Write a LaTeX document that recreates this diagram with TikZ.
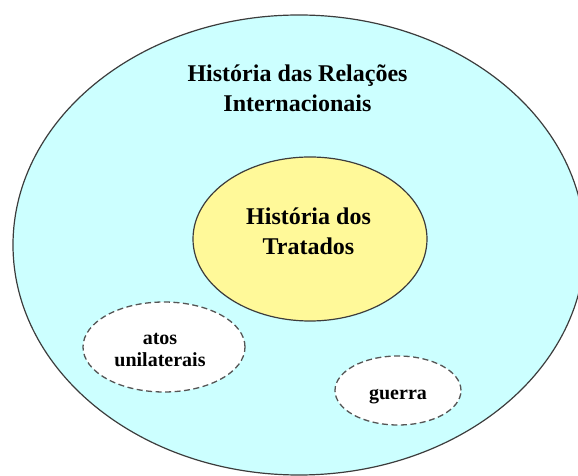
\documentclass[tikz,border=0pt]{standalone}
\usepackage{fontspec}
\setmainfont{Liberation Serif}
\usetikzlibrary{shapes.geometric}
\definecolor{outercyan}{RGB}{204,255,255}
\definecolor{inneryellow}{RGB}{255,249,153}
\definecolor{edgegray}{RGB}{60,60,60}
\definecolor{dashgray}{RGB}{85,85,85}
\tikzset{
  region/.style={ellipse, draw=edgegray, line width=1.2pt, inner sep=0pt},
  sideset/.style={ellipse, draw=dashgray, fill=white, line width=1.3pt, dash pattern=on 6pt off 3.5pt, inner sep=0pt},
  lbl/.style={font=\bfseries\fontsize{24}{30}\selectfont, align=center, text=black, inner sep=0pt},
  smalllbl/.style={font=\bfseries\fontsize{20}{22}\selectfont, align=center, text=black, inner sep=0pt}
}
\begin{document}
\begin{tikzpicture}[x=1pt,y=1pt]
\useasboundingbox (0,0) rectangle (578,476);
\clip (0,0) rectangle (578,476);
\node[region, fill=outercyan, minimum width=572pt, minimum height=460pt] (outer) at (299,231) {};
\node[region, fill=inneryellow, minimum width=234pt, minimum height=164pt] (treaties) at (310,237) {};
\node[sideset, minimum width=162pt, minimum height=90pt] (atos) at (164,129) {};
\node[sideset, minimum width=126pt, minimum height=69pt] (guerra) at (398,85.5) {};
\node[lbl] (titletext) at (297.5,388) {História das Relações\\Internacionais};
\node[lbl] (treatytext) at (308.5,245) {História dos\\Tratados};
\node[smalllbl] (atostext) at (160,126) {atos\\unilaterais};
\node[smalllbl, anchor=base] (guerratext) at (398,76) {guerra};
\end{tikzpicture}
\end{document}
